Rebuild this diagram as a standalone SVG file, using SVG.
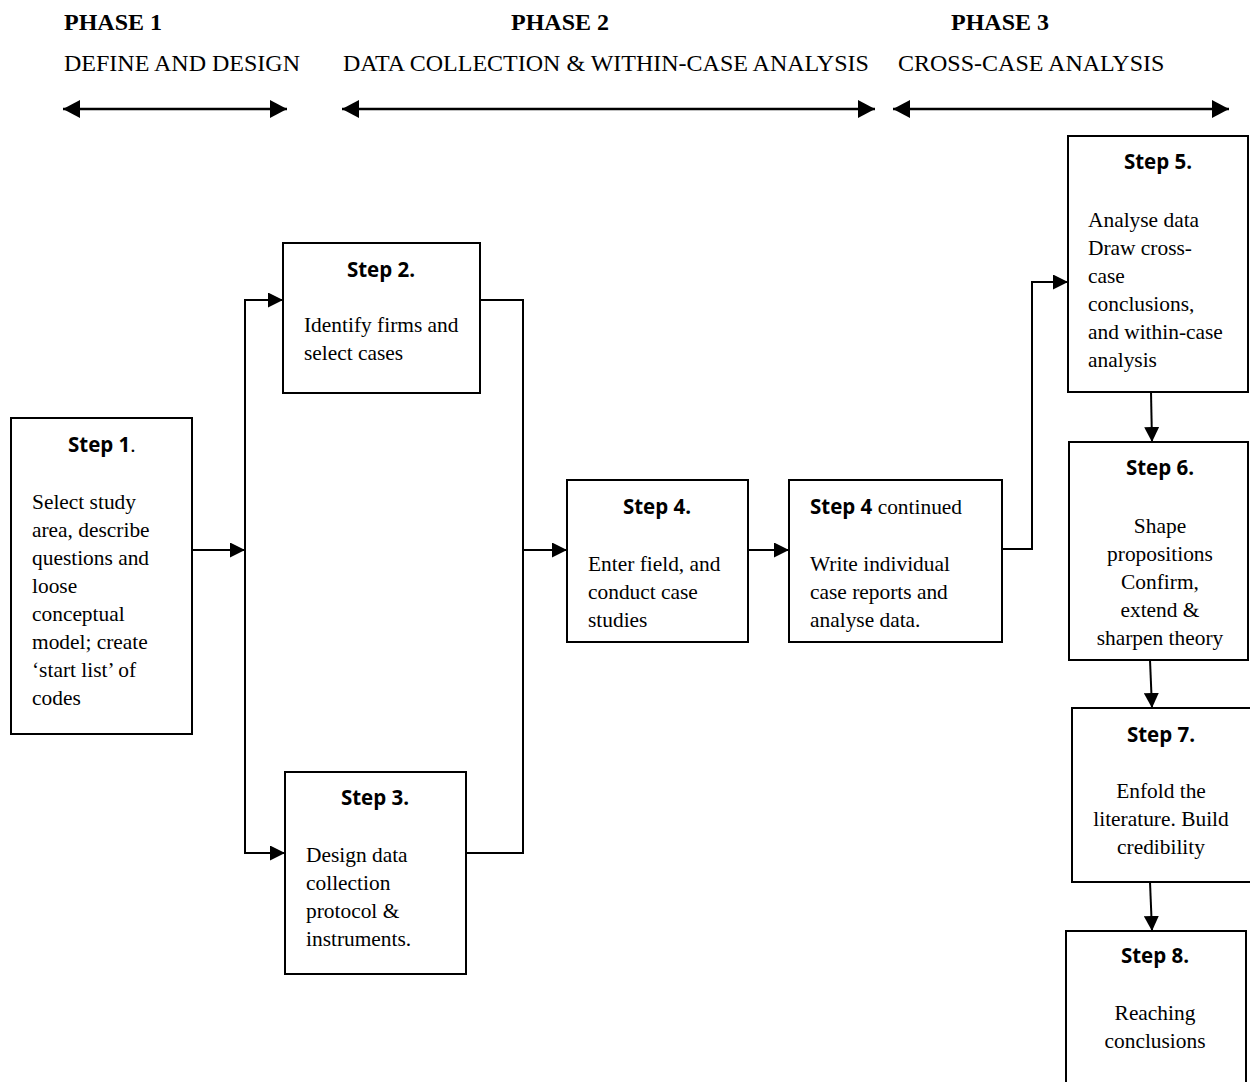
<svg xmlns="http://www.w3.org/2000/svg" width="1250" height="1082" viewBox="0 0 1250 1082">
  <style>
    .box { fill: #ffffff; stroke: #000000; stroke-width: 2; }
    .wire { fill: none; stroke: #000000; stroke-width: 2; }
    .span { fill: none; stroke: #000000; stroke-width: 2.5; }
    .head { font-family: "Liberation Serif", "Times New Roman", serif; font-size: 24px; fill: #000; }
    .hb { font-weight: bold; }
    .title { font-family: "Open Sans", "Noto Sans", sans-serif; font-weight: bold; font-size: 20.5px; fill: #000; }
    .body { font-family: "Liberation Serif", "Times New Roman", serif; font-size: 21.4px; fill: #000; }
    .mid { text-anchor: middle; }
  </style>
  <defs>
    <marker id="arrow" markerUnits="userSpaceOnUse" markerWidth="15" markerHeight="15" refX="15" refY="7.5" orient="auto">
      <path d="M0,0 L15,7.5 L0,15 z" fill="#000"/>
    </marker>
    <marker id="spanhead" markerUnits="userSpaceOnUse" markerWidth="17" markerHeight="18" refX="17" refY="9" orient="auto-start-reverse">
      <path d="M0,0 L17,9 L0,18 z" fill="#000"/>
    </marker>
  </defs>
  <rect width="1250" height="1082" fill="#ffffff"/>

  <!-- phase headings -->
  <g id="phase-headings">
    <text class="head hb" x="64" y="30">PHASE 1</text>
    <text class="head" x="64" y="71">DEFINE AND DESIGN</text>
    <text class="head hb" x="511" y="30">PHASE 2</text>
    <text class="head" x="343" y="71">DATA COLLECTION &amp; WITHIN-CASE ANALYSIS</text>
    <text class="head hb" x="951" y="30">PHASE 3</text>
    <text class="head" x="898" y="71">CROSS-CASE ANALYSIS</text>
    <line class="span" x1="63" y1="109" x2="287" y2="109" marker-start="url(#spanhead)" marker-end="url(#spanhead)"/>
    <line class="span" x1="342" y1="109" x2="875" y2="109" marker-start="url(#spanhead)" marker-end="url(#spanhead)"/>
    <line class="span" x1="893" y1="109" x2="1229" y2="109" marker-start="url(#spanhead)" marker-end="url(#spanhead)"/>
  </g>

  <!-- connectors -->
  <g id="connectors">
    <line class="wire" x1="192" y1="550" x2="245" y2="550" marker-end="url(#arrow)"/>
    <line class="wire" x1="245" y1="299" x2="245" y2="854"/>
    <line class="wire" x1="244" y1="300" x2="283" y2="300" marker-end="url(#arrow)"/>
    <line class="wire" x1="244" y1="853" x2="285" y2="853" marker-end="url(#arrow)"/>
    <polyline class="wire" points="480,300 523,300 523,853 466,853"/>
    <line class="wire" x1="523" y1="550" x2="567" y2="550" marker-end="url(#arrow)"/>
    <line class="wire" x1="748" y1="550" x2="789" y2="550" marker-end="url(#arrow)"/>
    <polyline class="wire" points="1002,549 1032,549 1032,282 1068,282" marker-end="url(#arrow)"/>
    <line class="wire" x1="1151" y1="392" x2="1152" y2="442" marker-end="url(#arrow)"/>
    <line class="wire" x1="1150" y1="660" x2="1152" y2="708" marker-end="url(#arrow)"/>
    <line class="wire" x1="1150" y1="882" x2="1152" y2="931" marker-end="url(#arrow)"/>
  </g>

  <!-- step nodes -->
  <g id="step1">
    <rect class="box" x="11" y="418" width="181" height="316"/>
    <text class="title" x="68" y="452">Step 1<tspan class="body" font-weight="normal">.</tspan></text>
    <text class="body" x="32" y="509">Select study</text>
    <text class="body" x="32" y="537">area, describe</text>
    <text class="body" x="32" y="565">questions and</text>
    <text class="body" x="32" y="593">loose</text>
    <text class="body" x="32" y="621">conceptual</text>
    <text class="body" x="32" y="649">model; create</text>
    <text class="body" x="32" y="677">‘start list’ of</text>
    <text class="body" x="32" y="705">codes</text>
  </g>

  <g id="step2">
    <rect class="box" x="283" y="243" width="197" height="150"/>
    <text class="title mid" x="381" y="277">Step 2.</text>
    <text class="body" x="304" y="332">Identify firms and</text>
    <text class="body" x="304" y="360">select cases</text>
  </g>

  <g id="step3">
    <rect class="box" x="285" y="772" width="181" height="202"/>
    <text class="title mid" x="375" y="805">Step 3.</text>
    <text class="body" x="306" y="862">Design data</text>
    <text class="body" x="306" y="890">collection</text>
    <text class="body" x="306" y="918">protocol &amp;</text>
    <text class="body" x="306" y="946">instruments.</text>
  </g>

  <g id="step4">
    <rect class="box" x="567" y="480" width="181" height="162"/>
    <text class="title mid" x="657" y="514">Step 4.</text>
    <text class="body" x="588" y="571">Enter field, and</text>
    <text class="body" x="588" y="599">conduct case</text>
    <text class="body" x="588" y="627">studies</text>
  </g>

  <g id="step4-continued">
    <rect class="box" x="789" y="480" width="213" height="162"/>
    <text class="title" x="810" y="514">Step 4<tspan class="body" font-weight="normal"> continued</tspan></text>
    <text class="body" x="810" y="571">Write individual</text>
    <text class="body" x="810" y="599">case reports and</text>
    <text class="body" x="810" y="627">analyse data.</text>
  </g>

  <g id="step5">
    <rect class="box" x="1068" y="136" width="180" height="256"/>
    <text class="title mid" x="1158" y="169">Step 5.</text>
    <text class="body" x="1088" y="227">Analyse data</text>
    <text class="body" x="1088" y="255">Draw cross-</text>
    <text class="body" x="1088" y="283">case</text>
    <text class="body" x="1088" y="311">conclusions,</text>
    <text class="body" x="1088" y="339">and within-case</text>
    <text class="body" x="1088" y="367">analysis</text>
  </g>

  <g id="step6">
    <rect class="box" x="1069" y="442" width="179" height="218"/>
    <text class="title mid" x="1160" y="475">Step 6.</text>
    <text class="body mid" x="1160" y="533">Shape</text>
    <text class="body mid" x="1160" y="561">propositions</text>
    <text class="body mid" x="1160" y="589">Confirm,</text>
    <text class="body mid" x="1160" y="617">extend &amp;</text>
    <text class="body mid" x="1160" y="645">sharpen theory</text>
  </g>

  <g id="step7">
    <rect class="box" x="1072" y="708" width="180" height="174"/>
    <text class="title mid" x="1161" y="742">Step 7.</text>
    <text class="body mid" x="1161" y="798">Enfold the</text>
    <text class="body mid" x="1161" y="826">literature. Build</text>
    <text class="body mid" x="1161" y="854">credibility</text>
  </g>

  <g id="step8">
    <rect class="box" x="1066" y="931" width="180" height="160"/>
    <text class="title mid" x="1155" y="963">Step 8.</text>
    <text class="body mid" x="1155" y="1020">Reaching</text>
    <text class="body mid" x="1155" y="1048">conclusions</text>
  </g>
</svg>
